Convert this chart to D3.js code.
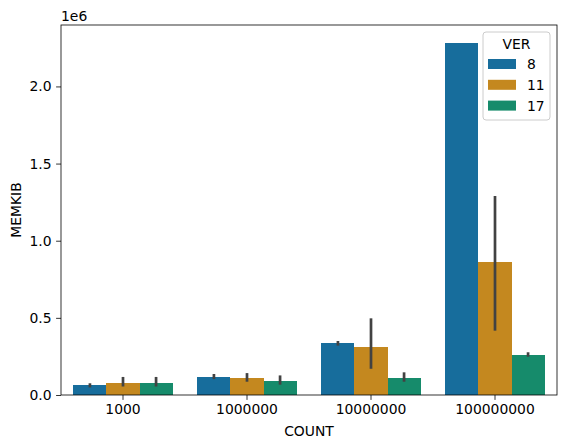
<!DOCTYPE html>
<html>
<head>
<meta charset="utf-8">
<script src="https://cdn.jsdelivr.net/npm/d3@7"></script>
<style>
  body { margin: 0; background: #fff; }
  svg { font-family: "DejaVu Sans", sans-serif; }
</style>
</head>
<body>
<svg id="chart"></svg>
<script>
// values
const counts = ['1000', '1000000', '10000000', '100000000']
const versions = ['8', '11', '17']
const colors = ['#176d9c', '#c4881f', '#168b6b']

// mean MEMKIB per count, one array per version
const mean8 = [65000, 117000, 337000, 2284000]
const mean11 = [78000, 110000, 311000, 864000]
const mean17 = [78000, 91000, 110000, 259000]

// confidence interval low / high
const low8 = [49000, 103000, 320000, 2284000]
const high8 = [76000, 136000, 350000, 2284000]
const low11 = [55000, 86000, 170000, 417000]
const high11 = [117000, 142000, 497000, 1290000]
const low17 = [55000, 67000, 86000, 248000]
const high17 = [117000, 127000, 147000, 277000]

const yTicks = [0, 0.5e6, 1.0e6, 1.5e6, 2.0e6]

const rows = [
  { ver: '8', mean: mean8, low: low8, high: high8 },
  { ver: '11', mean: mean11, low: low11, high: high11 },
  { ver: '17', mean: mean17, low: low17, high: high17 },
]

const W = 567, H = 448
const margin = { left: 61, right: 10, top: 25, bottom: 53 }
const innerW = W - margin.left - margin.right
const innerH = H - margin.top - margin.bottom

const svg = d3.select('#chart').attr('width', W).attr('height', H)
const g = svg.append('g').attr('transform', `translate(${margin.left},${margin.top})`)

const maxVal = d3.max(rows, r => d3.max(r.high))
const y = d3.scaleLinear().domain([0, maxVal * 1.05]).range([innerH, 0])

const x = d3.scaleBand().domain(counts).range([0, innerW]).paddingInner(0.2).paddingOuter(0.1)
const xSub = d3.scaleBand().domain(versions).range([0, x.bandwidth()])

const bars = rows.flatMap((r, vi) => counts.map((c, ci) => ({
  count: c, ver: r.ver, color: colors[vi],
  mean: r.mean[ci], low: r.low[ci], high: r.high[ci]
})))

g.selectAll('.bar')
  .data(bars)
  .enter()
  .append('rect')
  .attr('class', 'bar')
  .attr('x', d => x(d.count) + xSub(d.ver))
  .attr('width', xSub.bandwidth())
  .attr('y', d => y(d.mean))
  .attr('height', d => y(0) - y(d.mean))
  .attr('fill', d => d.color)
  .attr('shape-rendering', 'crispEdges')

g.selectAll('.err')
  .data(bars.filter(d => d.high > d.low))
  .enter()
  .append('line')
  .attr('class', 'err')
  .attr('x1', d => x(d.count) + xSub(d.ver) + xSub.bandwidth() / 2)
  .attr('x2', d => x(d.count) + xSub(d.ver) + xSub.bandwidth() / 2)
  .attr('y1', d => y(d.low))
  .attr('y2', d => y(d.high))
  .attr('stroke', '#424242')
  .attr('stroke-width', 2.7)

// axes
const yAxis = g.append('g')
  .call(d3.axisLeft(y).tickValues(yTicks).tickSize(4.9).tickPadding(4.5))
  .call(a => a.selectAll('text').text(d => (d / 1e6).toFixed(1)))
const xAxis = g.append('g')
  .attr('transform', `translate(0,${innerH})`)
  .call(d3.axisBottom(x).tickSize(4.9).tickPadding(4.5))

;[yAxis, xAxis].forEach(a => {
  a.select('.domain').remove()
  a.selectAll('line').attr('stroke', '#000').attr('stroke-width', 0.8)
  a.selectAll('text').attr('font-size', 13.9).attr('fill', '#000')
    .attr('font-family', '"DejaVu Sans", sans-serif')
})

g.append('rect')
  .attr('width', innerW).attr('height', innerH)
  .attr('fill', 'none').attr('stroke', '#000').attr('stroke-width', 0.8)

svg.append('text')
  .attr('x', margin.left).attr('y', 21)
  .attr('font-size', 13.9)
  .text('1e6')

svg.append('text')
  .attr('transform', `translate(21,${margin.top + innerH / 2}) rotate(-90)`)
  .attr('text-anchor', 'middle')
  .attr('font-size', 13.9)
  .text('MEMKIB')

svg.append('text')
  .attr('x', margin.left + innerW / 2).attr('y', 436)
  .attr('text-anchor', 'middle')
  .attr('font-size', 13.9)
  .text('COUNT')

// legend
const leg = svg.append('g').attr('transform', 'translate(483,32)')
leg.append('rect')
  .attr('width', 67).attr('height', 88).attr('rx', 3)
  .attr('fill', 'rgba(255,255,255,0.8)')
  .attr('stroke', '#cccccc').attr('stroke-width', 1)
leg.append('text')
  .attr('x', 33.5).attr('y', 17)
  .attr('text-anchor', 'middle')
  .attr('font-size', 13.9)
  .text('VER')
versions.forEach((v, i) => {
  const row = leg.append('g').attr('transform', `translate(5,${27 + i * 20.8})`)
  row.append('rect').attr('width', 28).attr('height', 10).attr('fill', colors[i])
  row.append('text').attr('x', 39).attr('y', 10).attr('font-size', 13.9).text(v)
})
</script>
</body>
</html>
